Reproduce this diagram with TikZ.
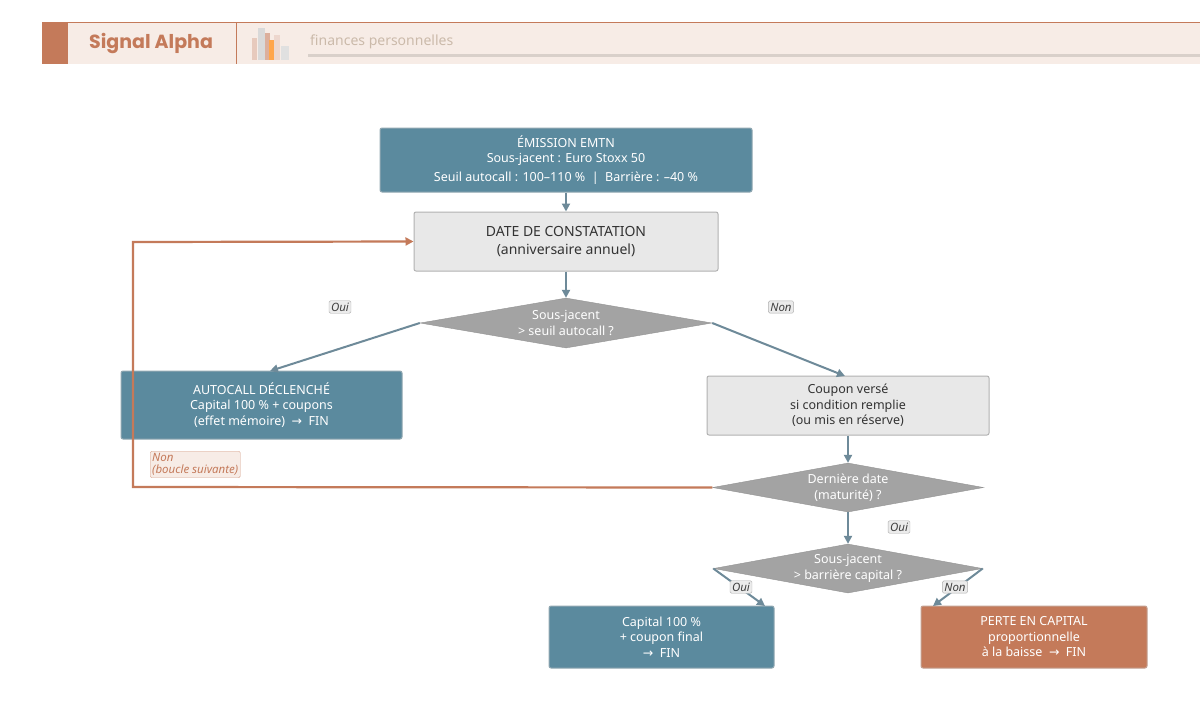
\documentclass[tikz,border=0pt]{standalone}
\usepackage{fontspec}
\setmainfont{Noto Sans}
\newfontfamily\pop{Poppins}
\newfontfamily\dv{DejaVu Sans}
\newcommand{\rarr}{{\dv →}}
\usetikzlibrary{shapes.geometric,arrows.meta}
\definecolor{blu}{HTML}{5B8A9E}
\definecolor{ora}{HTML}{C47A5A}
\definecolor{arr}{HTML}{6E8A99}
\definecolor{lg}{HTML}{E8E8E8}
\definecolor{dg}{HTML}{A3A3A3}
\definecolor{band}{HTML}{F7ECE6}
\begin{document}
\begin{tikzpicture}[x=1pt,y=-1pt,
 box/.style={draw=#1!80!black!60,fill=#1,rounded corners=2pt,align=center,inner sep=0pt,font=\fontsize{12.5}{15.5}\selectfont,line width=1pt},
 bb/.style={box=blu,text=white},
 gb/.style={box=lg,draw=black!30,text=black!80},
 dia/.style={diamond,aspect=5.8,fill=dg,draw=dg!90!black,inner sep=0pt,align=center,text=white,font=\fontsize{12.5}{15.5}\selectfont},
 ar/.style={draw=arr,line width=2pt,-{Triangle[length=8pt,width=8pt]}},
 lab/.style={fill=black!8,draw=black!30,rounded corners=1.5pt,inner sep=2pt,font=\itshape\fontsize{11.5}{13}\selectfont,text=black!75}]
\useasboundingbox (0,0) rectangle (1200,721);
\fill[white] (0,0) rectangle (1200,721);
% header
\fill[band] (42,22) rectangle (1200,64);
\draw[ora,line width=1pt] (42,22) -- (1200,22);
\fill[ora] (42,22) rectangle (68,64);
\draw[ora,line width=1pt] (236,22) -- (236,64);
\node[font=\pop\bfseries\fontsize{19}{22}\selectfont,text=ora,anchor=west,inner sep=0pt] (ttl) at (89,43) {Signal Alpha};
\fill[ora!40] (252,38) rectangle (257,60);
\fill[black!15] (258,28) rectangle (265,60);
\fill[ora!60] (265,33) rectangle (270,60);
\fill[orange!70] (269,40) rectangle (274,60);
\fill[ora!30] (274,35) rectangle (280,60);
\fill[black!12] (281,46) rectangle (289,60);
\node[font=\fontsize{14}{16}\selectfont,text=black!35!brown!40,anchor=west,inner sep=0pt] (sub) at (310,42) {finances personnelles};
\fill[black!12!band] (308,54) rectangle (1200,57);
% nodes
\node[bb,minimum width=372,minimum height=64] (em) at (566,160) {ÉMISSION EMTN\\Sous-jacent : Euro Stoxx 50\\[3pt]Seuil autocall : 100–110 \%\ \ \textbar\ \ Barrière : –40 \%};
\node[gb,minimum width=304,minimum height=59,font=\fontsize{14}{17.5}\selectfont] (dt) at (566,241.5) {DATE DE CONSTATATION\\(anniversaire annuel)};
\node[dia,minimum width=292,minimum height=50] (d1) at (566,323) {Sous-jacent\\> seuil autocall ?};
\node[bb,minimum width=281,minimum height=68] (ac) at (261.5,405) {AUTOCALL DÉCLENCHÉ\\Capital 100 \% + coupons\\(effet mémoire)\ \ \rarr\ \ FIN};
\node[gb,minimum width=282,minimum height=59] (cp) at (848,405.5) {Coupon versé\\si condition remplie\\(ou mis en réserve)};
\node[dia,minimum width=271,minimum height=49] (d2) at (848,487.5) {Dernière date\\(maturité) ?};
\node[dia,minimum width=268,minimum height=49] (d3) at (848,568.5) {Sous-jacent\\> barrière capital ?};
\node[bb,minimum width=225,minimum height=62] (ca) at (661.5,637) {Capital 100 \%\\+ coupon final\\\rarr\ \ FIN};
\node[box=ora,text=white,minimum width=226,minimum height=62] (pe) at (1034,637) {PERTE EN CAPITAL\\proportionnelle\\à la baisse\ \ \rarr\ \ FIN};
\coordinate (c1) at (133,487);
\coordinate (c2) at (133,242);
% connectors
\draw[ar] (em) -- (dt);
\draw[ar] (dt) -- (d1);
\draw[ar] (d1.west) -- (270,371);
\draw[ar] (d1.east) -- (845,376);
\draw[ar] (cp) -- (d2);
\draw[ar] (d2) -- (d3);
\draw[ar] (d3.west) -- (765,606);
\draw[ar] (d3.east) -- (933,606);
\draw[draw=ora,line width=2.2pt,-{Triangle[length=8pt,width=8pt]}] (d2.west) -- (c1) -- (c2) -- (dt.west);
% labels
\node[lab] (l1) at (340,307) {Oui};
\node[lab] (l2) at (781,307) {Non};
\node[lab] (l3) at (899,527) {Oui};
\node[lab] (l4) at (741,587) {Oui};
\node[lab] (l5) at (955,587) {Non};
\node[lab,fill=band,draw=ora!70,text=ora,align=left,anchor=north west,font=\itshape\fontsize{11.5}{12.5}\selectfont] (l6) at (150,451) {Non\\(boucle suivante)};
\end{tikzpicture}
\end{document}
